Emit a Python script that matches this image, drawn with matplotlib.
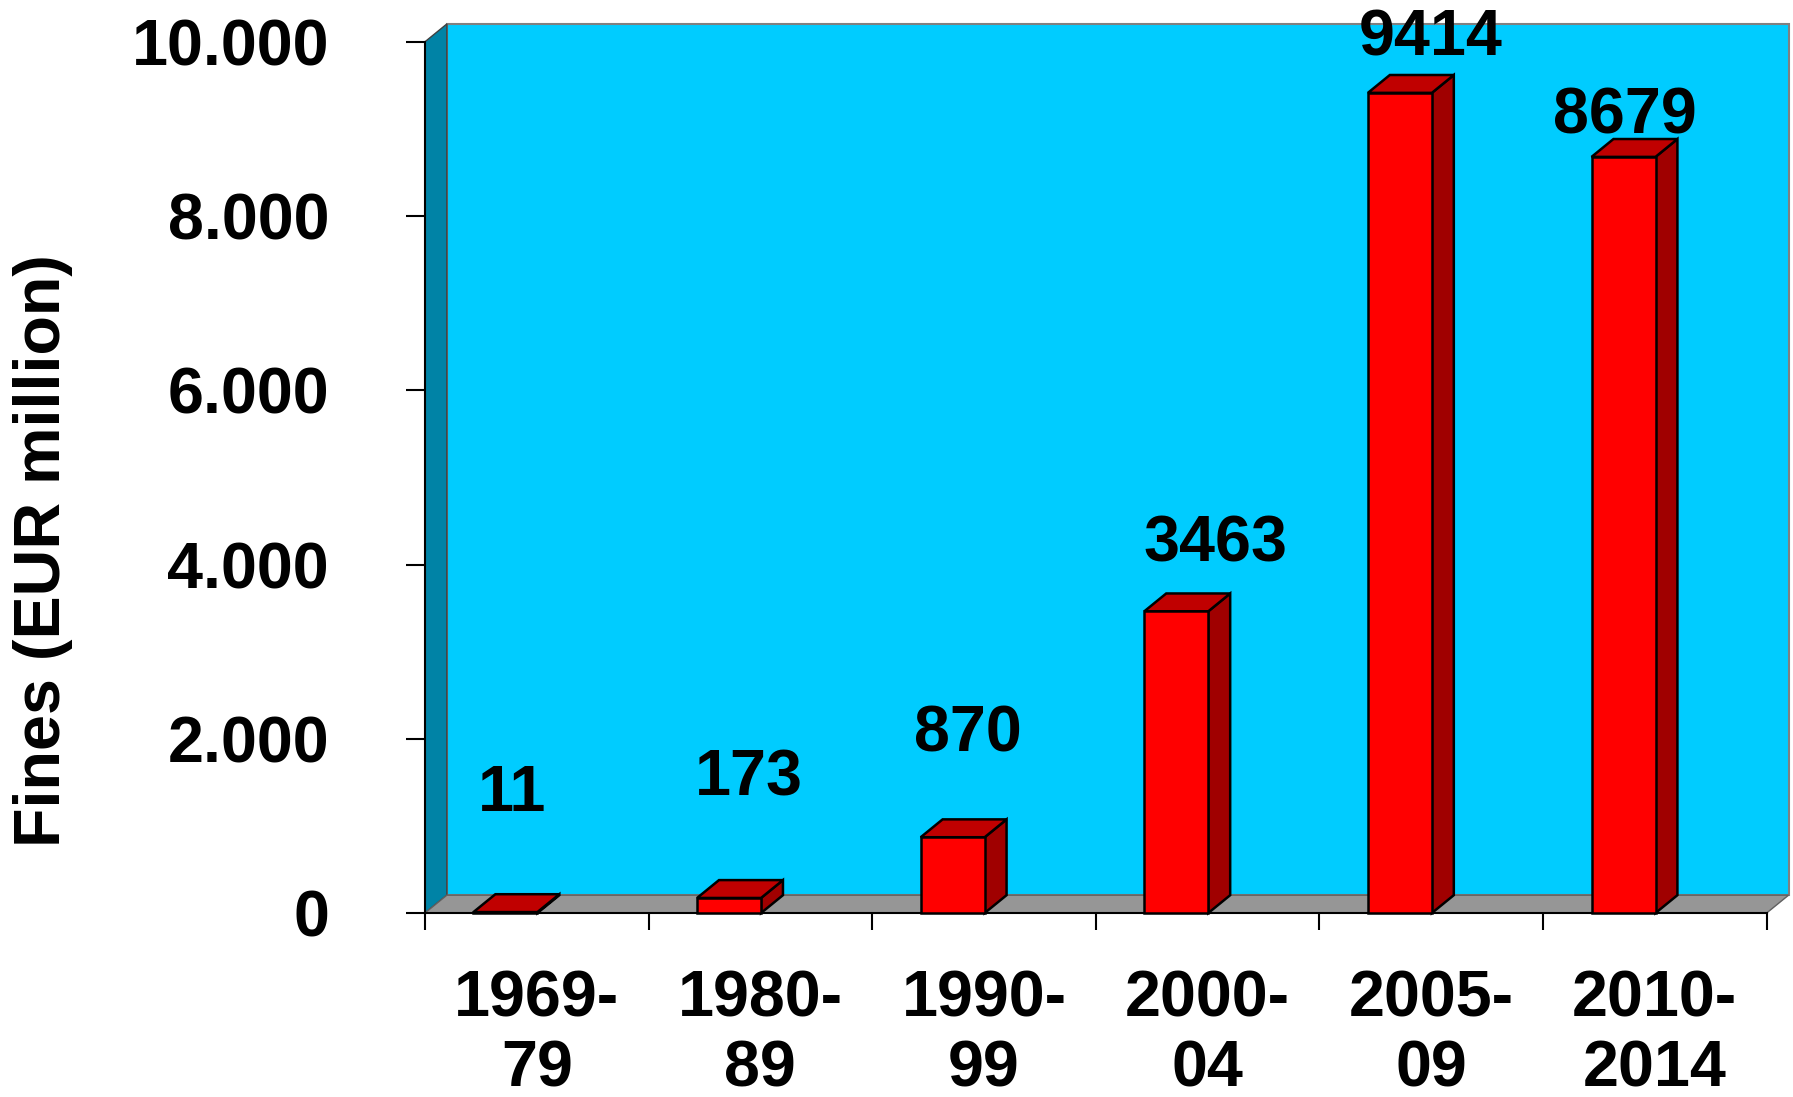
import numpy as np
import matplotlib
matplotlib.use("Agg")
import matplotlib.pyplot as plt
from matplotlib.patches import Polygon, Rectangle

plt.rcParams['font.family'] = ['Liberation Sans', 'DejaVu Sans']
plt.rcParams['font.weight'] = 'bold'

# data
periods = ["1969-\n79", "1980-\n89", "1990-\n99", "2000-\n04", "2005-\n09", "2010-\n2014"]
fines = [11, 173, 870, 3463, 9414, 8679]
y_ticks = [0, 2000, 4000, 6000, 8000, 10000]
y_labels = ["0", "2.000", "4.000", "6.000", "8.000", "10.000"]

# label nudges in pixels (dx from bar face centre, baseline above bar top)
label_dx = [7, 20, 15, 39, 31, 1]
label_dy = [101, 102, 86, 50, 37, 23]

fs = 46.5
dx = 0.098    # depth offset, category units
dy = 205      # depth offset, value units
bar_off = 0.217
bar_w = 0.286

fig = plt.figure(figsize=(17.93, 10.97), dpi=100)
ax = fig.add_axes([0.2370, 0.1677, 0.7483, 0.7942])
ax.set_xlim(0, len(fines))
ax.set_ylim(0, 10000)
ax.patch.set_visible(False)

n = len(fines)
# walls and floor
ax.add_patch(Polygon([(dx, dy), (n + dx, dy), (n + dx, 10000 + dy), (dx, 10000 + dy)],
                     closed=True, facecolor="#00CCFF", edgecolor="#808080", lw=1.5,
                     clip_on=False, zorder=1))
ax.add_patch(Polygon([(0, 0), (dx, dy), (dx, 10000 + dy), (0, 10000)],
                     closed=True, facecolor="#0083A6", edgecolor="#404040", lw=1.0,
                     clip_on=False, zorder=1))
ax.add_patch(Polygon([(0, 0), (n, 0), (n + dx, dy), (dx, dy)],
                     closed=True, facecolor="#969696", edgecolor="#606060", lw=1.0,
                     clip_on=False, zorder=1))

# 3d bars
for i, v in enumerate(fines):
    x0 = i + bar_off
    side = Polygon([(x0 + bar_w, 0), (x0 + bar_w + dx, dy), (x0 + bar_w + dx, v + dy), (x0 + bar_w, v)],
                   closed=True, facecolor="#A00000", edgecolor="black", lw=1.8, clip_on=False, zorder=3)
    top = Polygon([(x0, v), (x0 + bar_w, v), (x0 + bar_w + dx, v + dy), (x0 + dx, v + dy)],
                  closed=True, facecolor="#C00000", edgecolor="black", lw=1.8, clip_on=False, zorder=3)
    front = Rectangle((x0, 0), bar_w, v, facecolor="#FF0000", edgecolor="black", lw=1.8,
                      clip_on=False, zorder=4)
    ax.add_patch(side)
    ax.add_patch(top)
    ax.add_patch(front)
    ax.annotate(str(v), xy=(x0 + bar_w / 2, v), xytext=(label_dx[i], label_dy[i]),
                textcoords="offset pixels", ha="center", va="baseline",
                fontsize=fs, fontweight="bold", zorder=5, annotation_clip=False)

# axes styling
for s in ["top", "right"]:
    ax.spines[s].set_visible(False)
ax.spines["left"].set_linewidth(1.5)
ax.spines["bottom"].set_linewidth(1.5)
ax.spines["left"].set_zorder(2)
ax.spines["bottom"].set_zorder(2)

ax.set_yticks(y_ticks)
ax.set_yticklabels(y_labels, fontsize=fs, fontweight="bold")
ax.tick_params(axis="y", length=14, width=1.5, pad=55)

ax.set_xticks(np.arange(n + 1))
ax.set_xticklabels([])
ax.tick_params(axis="x", which="major", length=12, width=1.5)
ax.set_xticks(np.arange(n) + 0.5, minor=True)
ax.set_xticklabels(periods, minor=True, fontsize=fs, fontweight="bold")
ax.tick_params(axis="x", which="minor", length=0, pad=41)

fig.text(43 / 1793, 1 - 551 / 1097, "Fines (EUR million)", rotation=90,
         ha="center", va="center", fontsize=fs, fontweight="bold")

fig.savefig("out.png", dpi=100)
